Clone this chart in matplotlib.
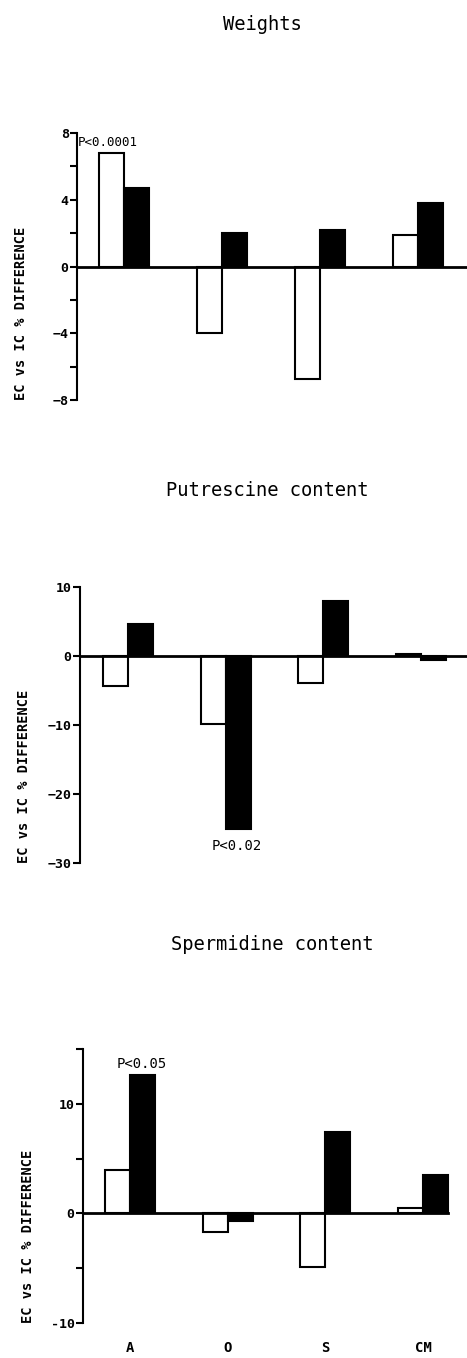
import numpy as np
from matplotlib import pyplot as plt

# data (% difference EC vs IC)
groups = ['A', 'O', 'S', 'CM']
weights_open = [6.8, -4.0, -6.75, 1.9]
weights_filled = [4.7, 2.0, 2.2, 3.8]
putr_open = [-4.3, -9.8, -3.9, 0.3]
putr_filled = [4.6, -25.0, 8.0, -0.6]
sperm_open = [4.0, -1.7, -4.9, 0.5]
sperm_filled = [12.6, -0.7, 7.4, 3.5]

W, H = 467, 1358
mono = 'DejaVu Sans Mono'
plt.rcParams['font.family'] = mono

fig = plt.figure(figsize=(W / 100, H / 100), dpi=100)


def px_axes(left, right, top, bottom):
    return fig.add_axes([left / W, 1 - bottom / H, (right - left) / W, (bottom - top) / H])


def panel(ax, opn, fil, ylim, major, minor, title, title_x, title_y,
          x0, center, spacing, line_end=None):
    x = np.arange(len(groups))
    w = 25 / spacing
    ax.bar(x - w / 2, opn, w, color='white', edgecolor='black', linewidth=1.5, zorder=2)
    ax.bar(x + w / 2, fil, w, color='black', edgecolor='black', linewidth=1.5, zorder=2)
    xl = ((x0 - center) / spacing, (467 - center) / spacing)
    ax.set_xlim(xl)
    ax.set_ylim(ylim)
    end = xl[1] if line_end is None else line_end
    ax.plot([xl[0], end], [0, 0], color='black', linewidth=2, zorder=3, clip_on=False)
    for s in ['top', 'right', 'bottom']:
        ax.spines[s].set_visible(False)
    ax.spines['left'].set_linewidth(1.5)
    ax.set_yticks(major)
    ax.set_yticks(minor, minor=True)
    ax.tick_params(axis='y', which='both', direction='out', length=5, width=1.5, pad=1,
                   labelsize=9.5)
    for t in ax.get_yticklabels():
        t.set_fontweight('bold')
    ax.set_xticks([])
    ax.text(-0.144, 0.0, 'EC vs IC % DIFFERENCE', transform=ax.transAxes, rotation=90,
            ha='center', va='bottom', fontsize=9.8, fontweight='bold')
    fig.text(title_x / W, 1 - title_y / H, title, ha='center', va='center', fontsize=13.5)


ax1 = px_axes(77, 467, 133, 400)
panel(ax1, weights_open, weights_filled, (-8, 8), [-8, -4, 0, 4, 8],
      [-6, -2, 2, 6], 'Weights', 262, 25, 77, 124, 98)
ax1.text(-0.47, 7.45, 'P<0.0001', ha='left', va='center', fontsize=9, zorder=4)

ax2 = px_axes(80, 467, 587, 863)
panel(ax2, putr_open, putr_filled, (-30, 10), [-30, -20, -10, 0, 10], [],
      'Putrescine content', 267, 490, 80, 128, 97.5)
ax2.text(1.12, -27.6, 'P<0.02', ha='center', va='center', fontsize=10)

ax3 = px_axes(83, 467, 1049, 1323)
panel(ax3, sperm_open, sperm_filled, (-10, 15), [-10, 0, 10], [-5, 5, 15],
      'Spermidine content', 272, 944, 83, 130, 97.7, line_end=3 + 25 / 97.7)
ax3.set_yticklabels(['-10', '0', '10'])
for t in ax3.get_yticklabels():
    t.set_fontweight('bold')
ax3.text(0.12, 13.6, 'P<0.05', ha='center', va='center', fontsize=10)
for i, g in enumerate(groups):
    ax3.text(i, -12.3, g, ha='center', va='center', fontsize=10, fontweight='bold')

fig.savefig('out.png', dpi=100)
